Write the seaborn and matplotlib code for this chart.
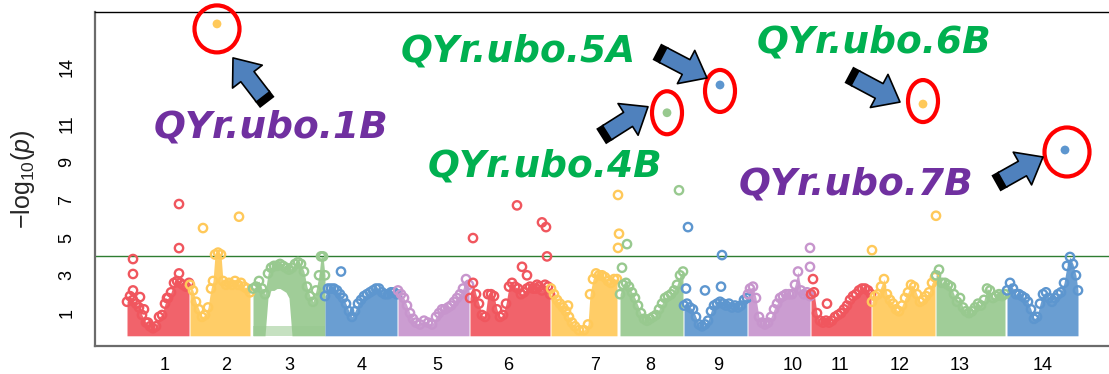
import numpy as np
import pandas as pd
import matplotlib
matplotlib.use("Agg")
import matplotlib.pyplot as plt
import seaborn as sns
from matplotlib.patches import Ellipse, FancyArrowPatch
from matplotlib.lines import Line2D
from matplotlib.transforms import ScaledTranslation

# ---------------------------------------------------------------- data
chromosomes = [str(i) for i in range(1, 15)]
chrom_centres = [165, 226, 289, 362, 437, 508, 595, 650, 718, 793, 840, 900, 960, 1043]
palette_cycle = ["#F0565E", "#FFC95A", "#98C98F", "#5D96CF", "#C795CD"]
threshold = 4.0
y_ticks = [1, 3, 5, 7, 9, 11, 14]

# upper edge of the dense SNP cloud on each chromosome (cumulative position, -log10 p)
chr1_pos = [127, 130, 133, 136, 139, 142, 146, 150, 153, 156, 159, 162, 165, 168, 171, 174, 177, 180, 183, 186, 189]
chr1_top = [1.6, 1.9, 1.7, 1.5, 1.3, 0.9, 0.5, 0.3, 0.2, 0.3, 0.8, 0.9, 1.5, 1.8, 2.1, 2.6, 2.7, 2.6, 2.5, 2.4, 2.6]
chr2_pos = [190, 193, 196, 199, 202, 205, 208, 211, 213, 215, 218, 221, 223, 226, 229, 232, 235, 238, 241, 244, 247, 250]
chr2_top = [2.5, 2.2, 1.6, 1.2, 0.8, 0.9, 1.3, 2.3, 2.7, 4.1, 4.2, 4.1, 2.7, 2.5, 2.6, 2.5, 2.7, 2.5, 2.6, 2.4, 2.3, 2.1]
chr3_pos = [253, 256, 259, 262, 265, 268, 271, 274, 277, 280, 283, 286, 289, 292, 295, 298, 301, 304, 307, 310, 313, 316, 319, 321, 323, 325]
chr3_top = [2.3, 2.4, 2.7, 2.3, 2.0, 3.1, 3.4, 3.5, 3.5, 3.6, 3.5, 3.4, 3.3, 3.4, 3.6, 3.7, 3.6, 3.2, 2.4, 1.9, 1.6, 2.2, 3.0, 4.0, 4.0, 3.0]
chr3_floor = [0, 0, 0, 0, 0, 1.8, 2.2, 2.2, 2.3, 2.3, 2.2, 2.1, 1.8, 0, 0, 0, 0, 0, 0, 0, 0, 0, 0, 0, 0, 0]
chr4_pos = [325, 328, 331, 334, 337, 340, 343, 346, 349, 352, 355, 358, 361, 364, 367, 370, 373, 376, 379, 382, 385, 388, 391, 394, 397]
chr4_top = [1.9, 2.3, 2.3, 2.3, 2.2, 2.0, 1.8, 1.5, 1.1, 0.8, 1.1, 1.5, 1.7, 1.9, 2.0, 2.1, 2.2, 2.3, 2.3, 2.1, 2.0, 2.0, 2.1, 2.1, 2.0]
chr5_pos = [398, 401, 404, 407, 410, 413, 416, 420, 424, 428, 432, 436, 439, 442, 445, 448, 451, 454, 457, 460, 463, 466, 469]
chr5_top = [2.2, 2.0, 1.8, 1.4, 1.0, 0.7, 0.5, 0.4, 0.6, 0.5, 0.4, 0.8, 1.0, 1.2, 1.2, 1.3, 1.4, 1.6, 1.8, 2.0, 2.3, 2.8, 2.5]
chr6_pos = [470, 473, 476, 479, 482, 485, 488, 491, 494, 497, 500, 503, 506, 509, 512, 515, 518, 521, 524, 527, 530, 533, 536, 539, 542, 545, 548, 550]
chr6_top = [1.8, 2.6, 2.0, 1.5, 0.9, 0.8, 2.0, 2.0, 1.9, 1.2, 0.8, 0.9, 1.5, 2.4, 2.6, 2.4, 2.3, 2.0, 2.1, 2.3, 2.4, 2.3, 2.3, 2.4, 2.2, 2.5, 2.4, 2.0]
chr7_pos = [551, 554, 557, 560, 563, 566, 569, 572, 575, 579, 584, 588, 590, 593, 596, 599, 602, 605, 608, 611, 614, 617]
chr7_top = [2.3, 2.0, 1.7, 1.5, 1.3, 1.1, 0.8, 0.5, 0.3, 0.1, 0.1, 0.4, 2.0, 2.8, 3.1, 3.0, 3.0, 2.9, 2.7, 2.6, 2.8, 2.8]
chr8_pos = [620, 623, 626, 629, 632, 635, 638, 641, 644, 647, 650, 653, 656, 659, 662, 665, 668, 671, 674, 677, 680, 683]
chr8_top = [2.0, 2.5, 2.6, 2.4, 2.1, 1.8, 1.4, 1.0, 0.7, 0.6, 0.7, 0.8, 0.9, 1.2, 1.5, 1.8, 1.9, 2.0, 2.2, 2.5, 3.0, 3.2]
chr9_pos = [684, 687, 690, 693, 696, 699, 702, 705, 708, 711, 714, 717, 720, 723, 726, 729, 732, 735, 738, 741, 744, 747]
chr9_top = [1.4, 1.5, 1.3, 1.2, 0.8, 0.4, 0.3, 0.4, 0.6, 1.1, 1.4, 1.5, 1.6, 1.5, 1.4, 1.5, 1.3, 1.4, 1.3, 1.4, 1.7, 1.8]
chr10_pos = [748, 750, 753, 756, 759, 762, 765, 768, 771, 774, 777, 780, 783, 786, 789, 792, 795, 798, 801, 804, 807, 810]
chr10_top = [2.0, 2.3, 2.4, 1.8, 0.8, 0.5, 0.4, 0.5, 0.8, 1.2, 1.5, 1.8, 1.9, 2.0, 2.0, 2.0, 2.5, 3.2, 2.2, 2.0, 2.1, 1.9]
chr11_pos = [811, 814, 817, 820, 823, 826, 829, 832, 835, 838, 841, 844, 847, 850, 853, 856, 859, 862, 865, 868, 871]
chr11_top = [2.0, 2.1, 1.0, 0.6, 0.5, 0.6, 0.5, 0.6, 0.8, 0.9, 1.0, 1.2, 1.4, 1.7, 1.9, 2.0, 2.2, 2.3, 2.3, 2.2, 2.0]
chr12_pos = [872, 875, 878, 881, 884, 887, 890, 893, 896, 899, 902, 905, 908, 911, 914, 917, 920, 923, 926, 929, 932, 935]
chr12_top = [1.6, 1.9, 2.0, 2.4, 2.8, 2.0, 1.7, 1.5, 1.2, 1.1, 1.4, 1.8, 2.1, 2.5, 2.4, 2.0, 1.6, 1.7, 1.9, 2.1, 2.6, 2.9]
chr13_pos = [936, 939, 942, 945, 948, 951, 954, 957, 960, 963, 966, 969, 972, 975, 978, 981, 984, 987, 990, 993, 996, 999, 1002, 1005]
chr13_top = [3.0, 3.3, 2.6, 2.6, 2.5, 2.4, 2.0, 1.6, 1.8, 1.3, 1.1, 1.0, 1.1, 1.3, 1.5, 1.4, 1.7, 2.3, 2.2, 1.8, 1.9, 2.0, 1.9, 2.0]
chr14_pos = [1007, 1010, 1013, 1016, 1019, 1022, 1025, 1028, 1031, 1034, 1037, 1040, 1043, 1046, 1049, 1052, 1055, 1058, 1061, 1064, 1067, 1070, 1073, 1076, 1078]
chr14_top = [2.2, 2.6, 2.3, 2.0, 2.0, 1.9, 1.8, 1.6, 1.2, 0.7, 0.8, 1.5, 2.0, 2.1, 1.8, 1.6, 1.8, 2.0, 2.1, 2.6, 3.5, 3.97, 3.6, 3.0, 2.2]

# isolated SNPs standing above the clouds
snp_chrom = ["1", "1", "1", "1", "1", "1", "1", "1", "1", "1",
             "2", "2", "4",
             "6", "6", "6", "6", "6", "6", "6", "6",
             "7", "7", "7", "7",
             "8", "8", "8",
             "9", "9", "9", "9", "9",
             "10", "10", "11", "11", "12", "12"]
snp_pos = [133, 133, 133, 140, 144, 148, 179, 179, 179, 167,
           203, 239, 341,
           473, 517, 542, 546, 547, 522, 527, 537,
           618, 619, 618, 568,
           622, 627, 679,
           688, 686, 705, 721, 722,
           810, 810, 813, 827, 872, 936]
snp_logp = [3.86, 3.07, 2.2, 1.85, 1.2, 0.5, 6.77, 4.44, 3.1, 1.8,
            5.5, 6.1, 3.2,
            4.97, 6.7, 5.8, 5.55, 4.0, 3.45, 3.0, 2.5,
            7.25, 5.2, 4.45, 1.4,
            3.4, 4.65, 7.5,
            5.55, 2.3, 2.2, 2.4, 4.07,
            4.45, 3.45, 2.8, 1.5, 4.33, 6.15]

# significant QTL
qtl_names = ["QYr.ubo.1B", "QYr.ubo.4B", "QYr.ubo.5A", "QYr.ubo.6B", "QYr.ubo.7B"]
qtl_chrom = ["2", "8", "9", "12", "14"]
qtl_pos = [217, 667, 720, 923, 1065]
qtl_logp = [16.3, 11.6, 13.07, 12.06, 9.63]
qtl_label_colour = ["#7030A0", "#00B050", "#00B050", "#00B050", "#7030A0"]

# ---------------------------------------------------------------- style
sns.set_theme(style="white")
plt.rcParams["font.family"] = ["Liberation Sans", "DejaVu Sans"]
plt.rcParams["mathtext.fontset"] = "custom"
plt.rcParams["mathtext.rm"] = "Liberation Sans"
plt.rcParams["mathtext.it"] = "Liberation Sans:italic"

colours = {c: palette_cycle[i % len(palette_cycle)] for i, c in enumerate(chromosomes)}
cloud_pos = [chr1_pos, chr2_pos, chr3_pos, chr4_pos, chr5_pos, chr6_pos, chr7_pos,
             chr8_pos, chr9_pos, chr10_pos, chr11_pos, chr12_pos, chr13_pos, chr14_pos]
cloud_top = [chr1_top, chr2_top, chr3_top, chr4_top, chr5_top, chr6_top, chr7_top,
             chr8_top, chr9_top, chr10_top, chr11_top, chr12_top, chr13_top, chr14_top]
cloud_floor = {"3": chr3_floor}

fig = plt.figure(figsize=(11.09, 3.74), dpi=100)
ax = fig.add_axes([95 / 1109, 28 / 374, 1014 / 1109, 334 / 374])
ax.set_xlim(95, 1109)
ax.set_ylim(-0.74, 16.93)

# dense clouds of SNPs
base = -0.2
for chrom, pos, top in zip(chromosomes, cloud_pos, cloud_top):
    pos = np.asarray(pos, float)
    top = np.asarray(top, float)
    col = colours[chrom]
    if chrom in cloud_floor:
        floor = np.asarray(cloud_floor[chrom], float)
        lower = np.where(floor > 0, floor, base)
        ax.fill_between(pos, base, np.minimum(top, 0.3), color=col, alpha=0.55, lw=0, zorder=2)
    else:
        lower = np.full_like(top, base)
    ax.fill_between(pos, lower, top, color=col, alpha=0.92, lw=0, zorder=2)

edge_df = pd.DataFrame({
    "chrom": np.concatenate([[c] * len(p) for c, p in zip(chromosomes, cloud_pos)] + [snp_chrom]),
    "pos": np.concatenate([np.asarray(p, float) for p in cloud_pos] + [np.asarray(snp_pos, float)]),
    "logp": np.concatenate([np.asarray(t, float) for t in cloud_top] + [np.asarray(snp_logp, float)]),
})
sns.scatterplot(data=edge_df, x="pos", y="logp", hue="chrom", palette=colours,
                s=36, linewidth=0, legend=False, ax=ax, zorder=3)
ring = ax.collections[-1]
ring_cols = ring.get_facecolors()
ring.set_facecolors("none")
ring.set_edgecolors(ring_cols)
ring.set_linewidths(1.7)

# highlighted QTL peaks
qtl_df = pd.DataFrame({"chrom": qtl_chrom, "pos": qtl_pos, "logp": qtl_logp})
sns.scatterplot(data=qtl_df, x="pos", y="logp", hue="chrom", palette=colours,
                s=40, linewidth=0, legend=False, ax=ax, zorder=4)

ax.axhline(threshold, color="#2E7D32", lw=1.0, zorder=1)

# axes cosmetics
ax.set_xticks(chrom_centres, chromosomes)
ax.set_yticks(y_ticks)
ax.tick_params(axis="both", length=0, labelsize=13, colors="black")
ax.tick_params(axis="x", pad=8)
ax.tick_params(axis="y", pad=14)
for t in ax.get_yticklabels():
    t.set_rotation(90)
    t.set_va("center")
ax.set_xlabel("")
ax.set_ylabel("\u2212log$_{10}$($\\mathit{p}$)", fontsize=18)
ax.yaxis.set_label_coords(-0.057, 0.5)
ax.grid(False)
for side in ["left", "bottom"]:
    ax.spines[side].set_color("#6b6b6b")
    ax.spines[side].set_linewidth(1.6)
ax.spines["top"].set_color("black")
ax.spines["top"].set_linewidth(1.0)
ax.spines["right"].set_visible(False)

# circles, arrows and labels around each QTL (offsets in points)
k = 0.72
ring_spec = [(0, -5, 45, 47), (0, 0, 30, 43), (0, -6, 30, 42), (0, 3, 30, 42), (2, -2, 45, 49)]
arrow_spec = [((46, -73), (16, -34)), ((-60, -20), (-19, 6)), ((-57, 30), (-13, 7)),
              ((-68, 26), (-23, 2)), ((-63, -30), (-22, -7))]
text_spec = [(54, -114), (-122, -64), (-202, 23), (-49, 52), (-209, -45)]
shaft_w = 12.0

for i, name in enumerate(qtl_names):
    x, y = qtl_pos[i], qtl_logp[i]
    anchor = fig.dpi_scale_trans + ScaledTranslation(x, y, ax.transData)
    dx, dy, w, h = ring_spec[i]
    ax.add_patch(Ellipse((dx * k / 72, dy * k / 72), w * k / 72, h * k / 72, transform=anchor,
                         fill=False, ec="#FF0000", lw=3.0, zorder=5, clip_on=False))
    (tx, ty), (hx, hy) = arrow_spec[i]
    # dark block at the tail end of the arrow
    u = np.array([hx - tx, hy - ty], float)
    u /= np.hypot(*u)
    t0 = np.array([tx, ty]) - 7 * u
    t1 = np.array([tx, ty]) + 2 * u
    ax.add_line(Line2D([t0[0] * k / 72, t1[0] * k / 72], [t0[1] * k / 72, t1[1] * k / 72],
                       transform=anchor, color="black", lw=shaft_w + 1.2,
                       solid_capstyle="butt", zorder=5.5, clip_on=False))
    ax.add_patch(FancyArrowPatch((tx * k / 72, ty * k / 72), (hx * k / 72, hy * k / 72),
                                 transform=anchor,
                                 arrowstyle=f"simple,head_length=17,head_width=27,tail_width={shaft_w}",
                                 mutation_scale=1, shrinkA=0, shrinkB=0, fc="#4F81BD", ec="black",
                                 lw=1.2, zorder=6, clip_on=False))
    ox, oy = text_spec[i]
    ax.annotate(name, (x, y), xytext=(ox * k, oy * k), textcoords="offset points",
                ha="center", va="baseline", fontsize=27, fontweight="bold", fontstyle="italic",
                family=["DejaVu Sans"], color=qtl_label_colour[i], zorder=7)

fig.savefig("out.png", dpi=100)
